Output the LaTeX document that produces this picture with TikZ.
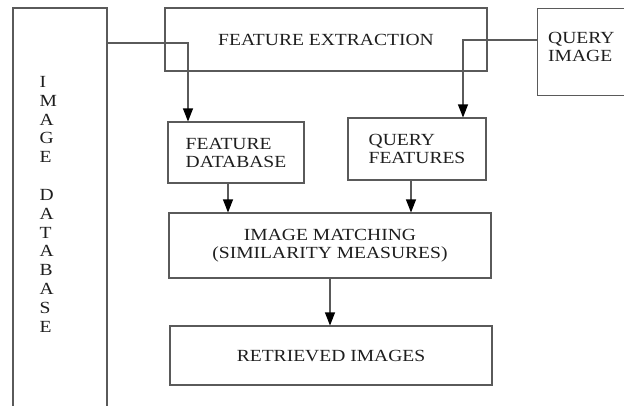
\documentclass[tikz,border=0pt]{standalone}
\usepackage{fontspec}
\setmainfont[FakeStretch=1.15]{Liberation Serif}
\usetikzlibrary{arrows.meta}
\definecolor{linegray}{RGB}{90,90,90}
\definecolor{textgray}{RGB}{30,30,30}

\begin{document}
\begin{tikzpicture}[x=1pt,y=1pt]

\tikzset{box/.style = {shape=rectangle,draw=linegray,line width=1.1pt,text=textgray,inner sep=0pt}}
\tikzset{boxtext/.style = {text=textgray,inner sep=0pt,align=left,anchor=north west}}
\tikzset{flow/.style = {draw=linegray,line width=1.1pt,-{Triangle[length=13pt,width=10pt,color=black]}}}
\tikzset{every node/.style = {font=\fontsize{17}{18}\selectfont}}

\useasboundingbox (0,0) rectangle (624,-405);
\clip (0,0) rectangle (624,-405);
\fill[white] (0,0) rectangle (624,-405);

% boxes
\node[box,minimum width=94pt,minimum height=420pt] (imgdb) at (60,-218) {};
\node[boxtext,font=\fontsize{17}{18.85}\selectfont] (imgdbtxt) at (39.5,-76) {I\\M\\A\\G\\E\\[18.85pt]D\\A\\T\\A\\B\\A\\S\\E};

\node[box,minimum width=322pt,minimum height=63pt] (featext) at (326,-39.5) {FEATURE EXTRACTION};

\node[box,minimum width=110pt,minimum height=87pt,anchor=north west] (qimg) at (537,-8) {};
\node[boxtext] (qimgtxt) at (548,-32) {QUERY\\IMAGE};

\node[box,minimum width=136pt,minimum height=61pt,align=left] (featdb) at (236,-152.5) {FEATURE\\DATABASE};
\node[box,minimum width=138pt,minimum height=62pt,align=left] (qfeat) at (417,-149) {QUERY\\FEATURES};
\node[box,minimum width=322pt,minimum height=65pt,align=center] (imatch) at (330,-245.5) {IMAGE MATCHING\\(SIMILARITY MEASURES)};
\node[box,minimum width=322pt,minimum height=59pt] (retr) at (331,-355.5) {RETRIEVED IMAGES};

% connectors
\coordinate (dbturn) at (188,-43);
\coordinate (qturn) at (463,-40);
\coordinate (fdout) at ([xshift=-8pt]featdb.south);
\coordinate (qfout) at ([xshift=-6pt]qfeat.south);

\draw[flow] (imgdb.east |- dbturn) -| (dbturn |- featdb.north);
\draw[flow] (qimg.west |- qturn) -| (qturn |- qfeat.north);
\draw[flow] (fdout) -- (fdout |- imatch.north);
\draw[flow] (qfout) -- (qfout |- imatch.north);
\draw[flow] (imatch.south) -- (imatch.south |- retr.north);

\end{tikzpicture}
\end{document}
